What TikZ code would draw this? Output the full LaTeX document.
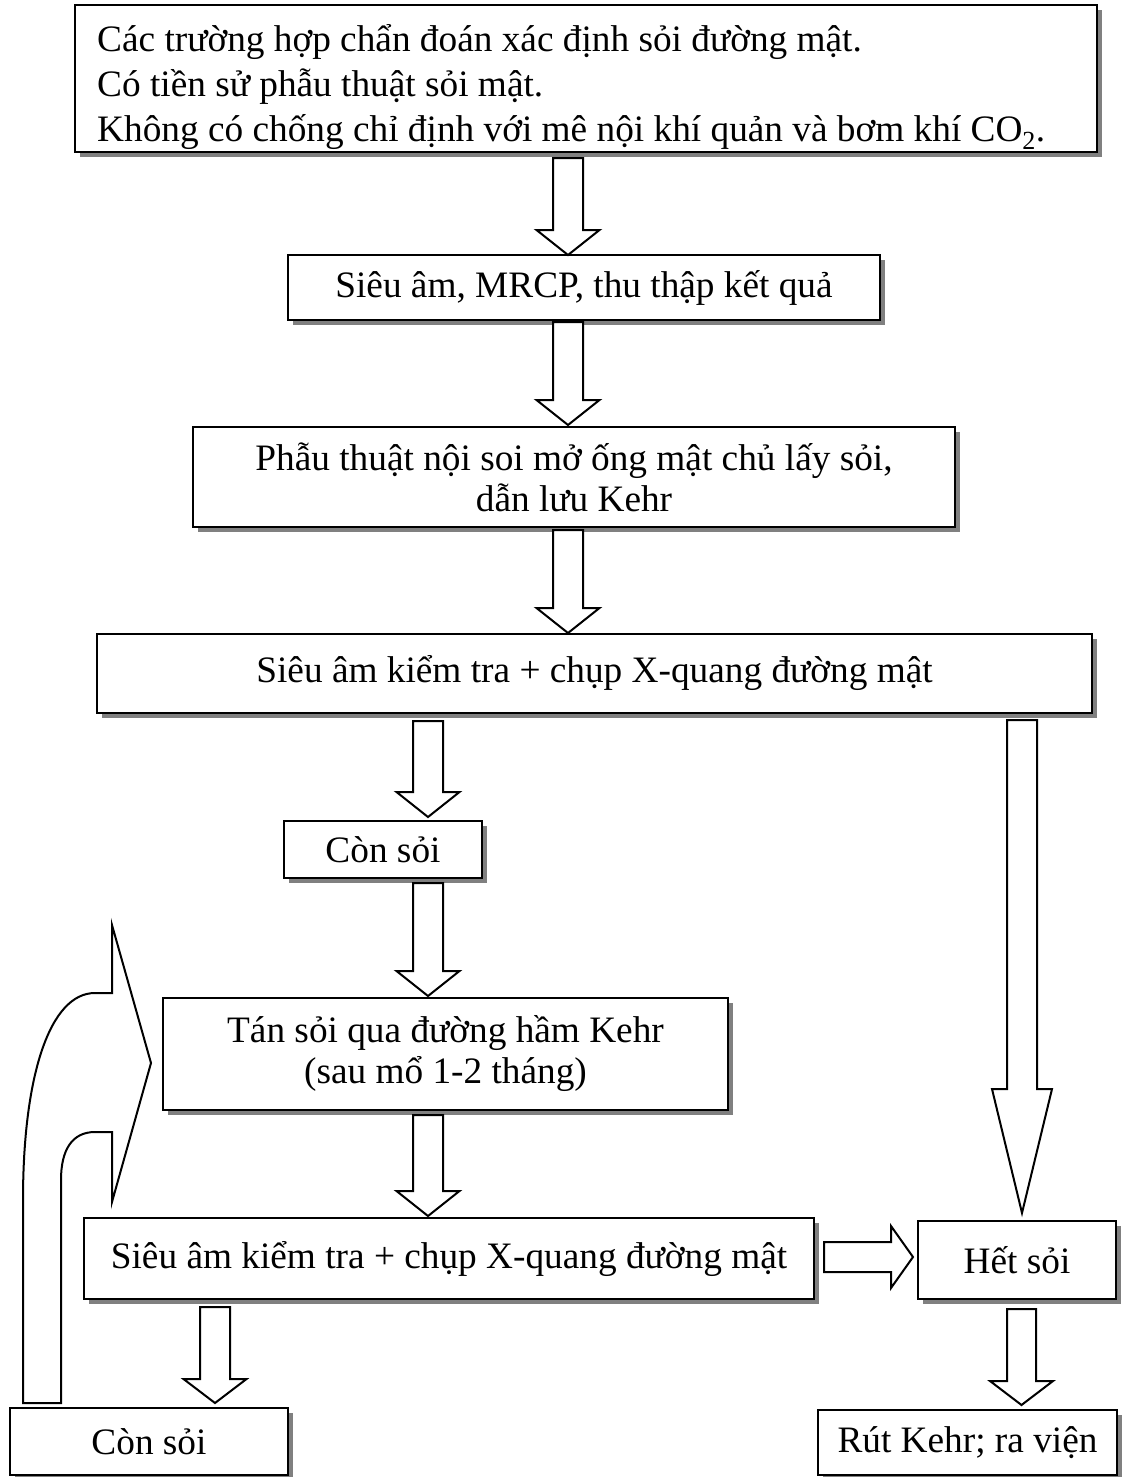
\documentclass[tikz,border=0pt]{standalone}
\usepackage{fontspec}
\setmainfont{Liberation Serif}
\usetikzlibrary{shadows,calc}
\tikzset{
  box/.style={draw, line width=2pt, fill=white,
    drop shadow={shadow xshift=5pt, shadow yshift=-5pt, fill=black!50, opacity=1},
    font=\fontsize{37.3}{41}\selectfont, align=center, inner sep=0pt},
  barrow/.style={draw, line width=2pt, fill=white, line join=miter}
}
\newcommand\vbarrow[6]{%
  \draw[barrow] ({#1-#5},#2) -- ({#1+#5},#2) -- ({#1+#5},{#3-#4}) -- ({#1+#6},{#3-#4})
    -- (#1,#3) -- ({#1-#6},{#3-#4}) -- ({#1-#5},{#3-#4}) -- cycle;}
\begin{document}
\begin{tikzpicture}[x=1pt,y=-1pt]
\useasboundingbox (0,0) rectangle (1123,1477);
% boxes
\node[box, minimum width=1022pt, minimum height=147pt] (top) at (586,78.5) {};
\node[anchor=west, inner sep=0pt, align=left, font=\fontsize{37.3}{45}\selectfont] (toptext) at (97,87)
  {Các trường hợp chẩn đoán xác định sỏi đường mật.\\
   Có tiền sử phẫu thuật sỏi mật.\\
   Không có chống chỉ định với mê nội khí quản và bơm khí CO\textsubscript{2}.};
\node[box, minimum width=592pt, minimum height=65pt] (mrcp) at (584,287.5) {Siêu âm, MRCP, thu thập kết quả};
\node[box, minimum width=762pt, minimum height=100pt] (phau) at (574,477) {Phẫu thuật nội soi mở ống mật chủ lấy sỏi,\\ dẫn lưu Kehr};
\node[box, minimum width=995pt, minimum height=79pt] (sa1) at (594.5,673.5) {Siêu âm kiểm tra + chụp X-quang đường mật};
\node[box, minimum width=198pt, minimum height=57pt] (con1) at (383,849.5) {Còn sỏi};
\node[box, minimum width=565pt, minimum height=112pt] (tan) at (445.5,1054) {Tán sỏi qua đường hầm Kehr\\ (sau mổ 1-2 tháng)};
\node[box, minimum width=730pt, minimum height=81pt] (sa2) at (449,1258.5) {Siêu âm kiểm tra + chụp X-quang đường mật};
\node[box, minimum width=198pt, minimum height=78pt] (het) at (1017,1260) {Hết sỏi};
\node[box, minimum width=278pt, minimum height=67pt] (con2) at (149,1441.5) {Còn sỏi};
\node[box, minimum width=299pt, minimum height=65pt] (rut) at (967.5,1442.5) {Rút Kehr; ra viện};
% block arrows
\vbarrow{568}{158}{255}{25}{15}{31.5}
\vbarrow{568}{322}{425}{25}{15}{31.5}
\vbarrow{568}{530}{633}{25}{15}{31.5}
\vbarrow{428}{721}{817}{25}{15}{31.5}
\vbarrow{428}{883}{996}{25}{15}{31.5}
\vbarrow{428}{1115}{1216}{25}{15}{31.5}
\vbarrow{215}{1307}{1403}{24}{15}{31.5}
\vbarrow{1021.5}{1309}{1405}{24}{14.5}{31.5}
\vbarrow{1022}{720}{1213}{124}{15}{30}
% horizontal arrow sa2 -> het
\draw[barrow] (824,1242) -- (891,1242) -- (891,1226) -- (913,1257) -- (891,1288) -- (891,1272) -- (824,1272) -- cycle;
% curved return arrow con2 -> tan
\draw[barrow] (23,1403) -- (23,1200) .. controls (23,1075) and (50,993) .. (95,993) -- (112,993) -- (112,925)
  -- (151,1063) -- (112,1202) -- (112,1132) -- (95,1132) .. controls (72,1132) and (61,1150) .. (61,1180)
  -- (61,1403) -- cycle;
\end{tikzpicture}
\end{document}
